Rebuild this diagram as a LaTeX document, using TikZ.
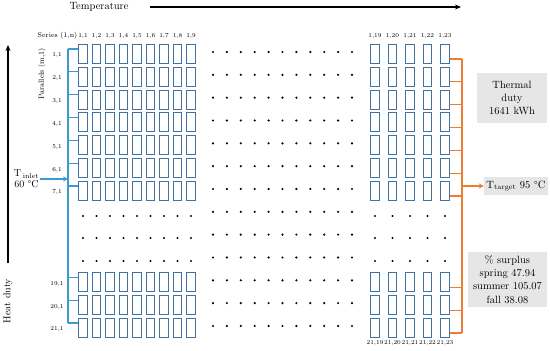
\documentclass[tikz,border=0pt]{standalone}
\usetikzlibrary{arrows.meta}
\definecolor{boxblue}{HTML}{44729E}
\definecolor{lineblue}{HTML}{3A9AD6}
\definecolor{lineorange}{HTML}{EE7D33}
\definecolor{greyfill}{HTML}{E6E6E6}
\begin{document}
\begin{tikzpicture}[x=1pt,y=-1pt,
  cell/.style={draw=boxblue, line width=1pt, minimum width=8.5pt, minimum height=19pt, inner sep=0pt},
  blueln/.style={draw=lineblue, line width=1.2pt},
  orln/.style={draw=lineorange, line width=1.2pt},
  greyb/.style={fill=greyfill, inner sep=2pt, align=center, font=\fontsize{10.5}{13.3}\selectfont},
  small/.style={font=\fontsize{6}{7}\selectfont, inner sep=0pt},
  dot/.style={fill=black}
]
\useasboundingbox (0,0) rectangle (550,351);

% axes
\coordinate (ta0) at (150,7);
\coordinate (ta1) at (461,7);
\draw[line width=1.1pt,-{Stealth[length=6pt,width=5pt]}] (ta0) -- (ta1);
\node[font=\fontsize{10.5}{12}\selectfont] (temp) at (99,7) {Temperature};
\coordinate (ha0) at (8,263);
\coordinate (ha1) at (8,45);
\draw[line width=1.1pt,-{Stealth[length=6pt,width=5pt]}] (ha0) -- (ha1);
\node[font=\fontsize{10}{12}\selectfont, rotate=90] (hd) at (8,301) {Heat duty};

% headings
\node[font=\fontsize{7}{8}\selectfont, inner sep=0pt] (series) at (57.5,35.5) {Series (1,n)};
\node[font=\fontsize{7.5}{8}\selectfont, rotate=90, inner sep=0pt] (par) at (42,74) {Parallels (m,1)};

% column labels
\foreach \c in {1,...,9}
  \node[small] (cl-\c) at ({83+13.5*(\c-1)},36) {1,\c};
\foreach \c/\n in {1/19,2/20,3/21,4/22,5/23} {
  \node[small] (cr-\n) at ({375+17.5*(\c-1)},36.5) {1,\n};
  \node[small] (cb-\n) at ({375+17.5*(\c-1)},343) {21,\n};
}

% box rows
\foreach \k/\lab in {1/1,2/2,3/3,4/4,5/5,6/6,7/7,11/19,12/20,13/21} {
  \pgfmathsetmacro\yy{54+22.83*(\k-1)}
  \node[small] (rl-\lab) at (57,\yy+1.5) {\lab,1};
  \foreach \c in {1,...,9}
    \node[cell] (b-\lab-\c) at ({83+13.5*(\c-1)},\yy) {};
  \foreach \c/\n in {1/19,2/20,3/21,4/22,5/23}
    \node[cell] (b-\lab-\n) at ({375+17.5*(\c-1)},\yy) {};
  \coordinate (bl-\lab) at (68,\yy-5);
  \coordinate (or-\lab) at (462,\yy+5);
  \draw[blueln] (bl-\lab) -- (bl-\lab -| b-\lab-1.west);
  \draw[orln] (or-\lab -| b-\lab-23.east) -- (or-\lab);
}
\draw[blueln] (bl-1) -- (bl-21);
\draw[orln] (or-1) -- (or-21);

% middle dots
\foreach \k in {1,...,13} {
  \pgfmathsetmacro\yy{54+22.83*(\k-1)-2}
  \foreach \i in {0,...,10}
    \fill[dot] ({213+13.9*\i},\yy) circle (1.2pt);
}
% dot rows in left and right blocks
\foreach \yy in {216,238,261} {
  \foreach \c in {1,...,9}
    \fill[dot] ({83+13.5*(\c-1)},\yy) circle (1.2pt);
  \foreach \c in {1,...,5}
    \fill[dot] ({375+17.5*(\c-1)},\yy) circle (1.2pt);
}

% inlet
\node[font=\fontsize{10}{12}\selectfont, align=center, inner sep=1pt] (tin) at (26.5,179) {T\,\textsubscript{inlet}\\[-1pt]60 °C};
\coordinate (inl) at (68,179);
\draw[blueln,-{Stealth[length=5pt,width=5pt]}] (tin.east) -- (inl);

% target
\node[greyb, minimum width=64pt, minimum height=18pt] (tt) at (516,186) {T\textsubscript{target} 95 °C};
\coordinate (ort) at (462,186);
\draw[orln,-{Stealth[length=5pt,width=5pt]}] (ort) -- (tt.west);

% thermal duty
\node[greyb, minimum width=70pt, minimum height=50pt] (td) at (512,98) {Thermal\\duty\\1641 kWh};

% surplus
\node[greyb, minimum width=79pt, minimum height=55pt] (sp) at (507.5,279.5) {\% surplus\\spring 47.94\\summer 105.07\\fall 38.08};
\end{tikzpicture}
\end{document}
